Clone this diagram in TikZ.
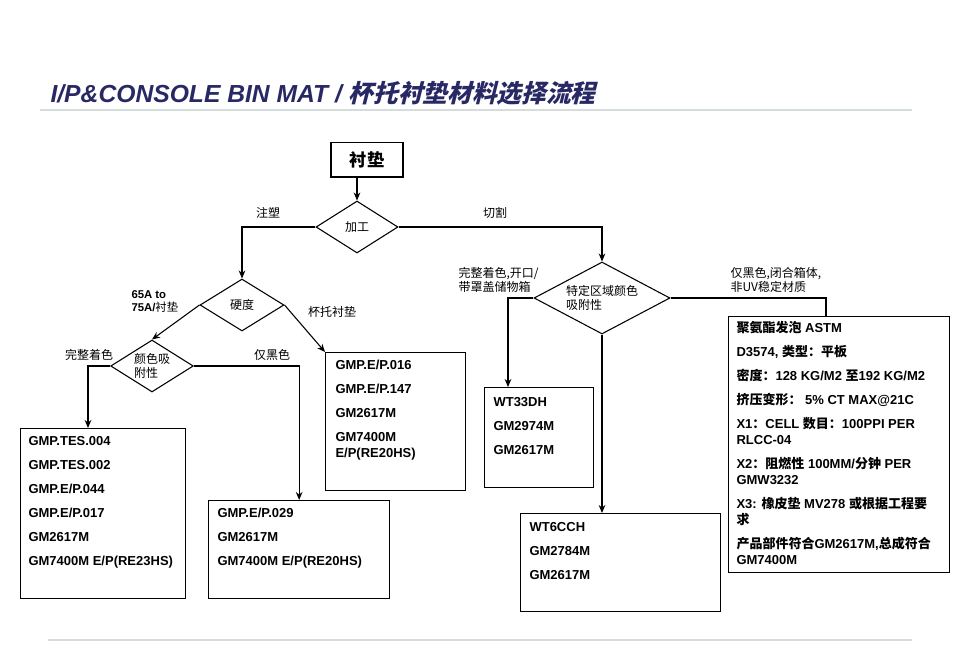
\documentclass[tikz,border=0pt]{standalone}
\usepackage{fontspec}
\setmainfont{Liberation Sans}
\newfontfamily\cjk{Noto Sans CJK SC}
\newfontfamily\cjkslant{Noto Sans CJK SC}[FakeSlant=0.25]
\usepackage{xcolor}
\usetikzlibrary{shapes.geometric, arrows.meta, positioning}
\definecolor{titlenavy}{RGB}{40,40,100}
\definecolor{rulegray}{RGB}{212,220,220}
\newcommand{\zh}[1]{{\cjk #1}}

\begin{document}
\begin{tikzpicture}
    	[x=0.75pt, y=-0.75pt, line width=0.8pt,
    	 arr/.style={-{Stealth[length=6pt, width=5pt]}},
    	 startbox/.style={draw, line width=1pt, minimum width=54pt, minimum height=26pt, inner sep=0pt,
    	   font=\cjk\bfseries\fontsize{13}{15}\selectfont},
    	 choice/.style={draw, diamond, inner sep=0pt, shape aspect=2, align=left,
    	   font=\cjk\fontsize{9}{10}\selectfont},
    	 specbox/.style={draw, line width=1pt, anchor=north west, inner sep=0pt},
    	 speclist/.style={anchor=base west, inner sep=0pt, align=left,
    	   font=\bfseries\fontsize{9.75}{12}\selectfont},
    	 tag/.style={inner sep=0pt, align=left, font=\cjk\fontsize{9}{10.5}\selectfont}]
    	\useasboundingbox (0,0) rectangle (960,646);

    	% title and rules
    	\node (title) at (50,102) [anchor=base west, inner sep=0pt, text=titlenavy,
    	  font=\bfseries\itshape\fontsize{18.5}{20}\selectfont]
    	  {I/P\&CONSOLE BIN MAT / {\cjkslant 杯托衬垫材料选择流程}};
    	\draw (40,110) -- (912,110) [color=rulegray, line width=1.2pt];
    	\draw (48,640) -- (912,640) [color=rulegray, line width=1.2pt];

    	% decisions
    	\node (pad) at (367,159.5) [startbox] {衬垫};
    	\node (jg) at (357,227) [choice, minimum width=61.5pt, minimum height=39pt] {加工};
    	\node (yd) at (242,305) [choice, minimum width=63pt, minimum height=39pt] {硬度};
    	\node (ys) at (152,366) [choice, shape aspect=1.5, minimum width=62pt, minimum height=39pt] {颜色吸\\附性};
    	\node (tq) at (602,298) [choice, minimum width=102pt, minimum height=54pt] {特定区域颜色\\吸附性};

    	% branch labels
    	\node (zs) at (268,213) [tag] {注塑};
    	\node (qg) at (495,213) [tag] {切割};
    	\node (hd) at (131,301.5) [tag, anchor=west, font=\bfseries\fontsize{8.5}{10}\selectfont]
    	  {65A to\\75A/{\cjk\mdseries 衬垫}};
    	\node (btcd) at (332,312) [tag] {杯托衬垫};
    	\node (wz) at (89,355) [tag] {完整着色};
    	\node (jh) at (272,355) [tag] {仅黑色};
    	\node (wzk) at (458,280) [tag, anchor=west] {完整着色,开口/\\带罩盖储物箱};
    	\node (jhb) at (730,280) [tag, anchor=west] {仅黑色,闭合箱体,\\非UV稳定材质};

    	% spec boxes (lists are placed by their last baseline)
    	\node (b1) at (20,428) [specbox, minimum width=123.75pt, minimum height=127.5pt] {};
    	\node (b1list) at (28,565) [speclist]
    	  {GMP.TES.004\\[6pt] GMP.TES.002\\[6pt] GMP.E/P.044\\[6pt] GMP.E/P.017\\[6pt] GM2617M\\[6pt] GM7400M E/P(RE23HS)};
    	\node (b2) at (208,500) [specbox, minimum width=135.75pt, minimum height=73.5pt] {};
    	\node (b2list) at (217,565) [speclist]
    	  {GMP.E/P.029\\[6pt] GM2617M\\[6pt] GM7400M E/P(RE20HS)};
    	\node (b3) at (325,352) [specbox, minimum width=105pt, minimum height=103.5pt] {};
    	\node (b3list) at (335,457) [speclist]
    	  {GMP.E/P.016\\[6pt] GMP.E/P.147\\[6pt] GM2617M\\[6pt] GM7400M\\ E/P(RE20HS)};
    	\node (b4) at (484,387) [specbox, minimum width=81.75pt, minimum height=75pt] {};
    	\node (b4list) at (493,454) [speclist]
    	  {WT33DH\\[6pt] GM2974M\\[6pt] GM2617M};
    	\node (b5) at (520,513) [specbox, minimum width=150pt, minimum height=73.5pt] {};
    	\node (b5list) at (529,579) [speclist]
    	  {WT6CCH\\[6pt] GM2784M\\[6pt] GM2617M};
    	\node (b6) at (728,316) [specbox, minimum width=165.75pt, minimum height=192pt] {};
    	\node (b6list) at (736,564) [speclist]
    	  {\zh{聚氨酯发泡} ASTM\\[6pt]
    	   D3574, \zh{类型：平板}\\[6pt]
    	   \zh{密度：}128 KG/M2 \zh{至}192 KG/M2\\[6pt]
    	   \zh{挤压变形：} 5\% CT MAX@21C\\[6pt]
    	   X1\zh{：}CELL \zh{数目：}100PPI PER\\ RLCC-04\\[6pt]
    	   X2\zh{：阻燃性} 100MM/\zh{分钟} PER\\ GMW3232\\[6pt]
    	   X3: \zh{橡皮垫} MV278 \zh{或根据工程要}\\ \zh{求}\\[6pt]
    	   \zh{产品部件符合}GM2617M,\zh{总成符合}\\ GM7400M};

    	% connectors
    	\draw[arr] (pad.south -| jg.north) -- (jg.north);
    	\draw[arr] (jg.west) -| (yd.north);
    	\draw[arr] (jg.east) -| (tq.north);
    	\draw[arr] (yd.west) -- (ys.north);
    	\draw[arr] (yd.east) -- (b3.north west);
    	\draw[arr] (ys.west) -| ([xshift=51pt]b1.north west);
    	\draw[arr] (ys.east) -| (b2.north);
    	\draw[arr] (tq.west) -| ([xshift=18pt]b4.north west);
    	\draw[arr] (tq.south) -- (tq.south |- b5.north);
    	\draw (tq.east) -| ([xshift=73.5pt]b6.north west);
\end{tikzpicture}
\end{document}
